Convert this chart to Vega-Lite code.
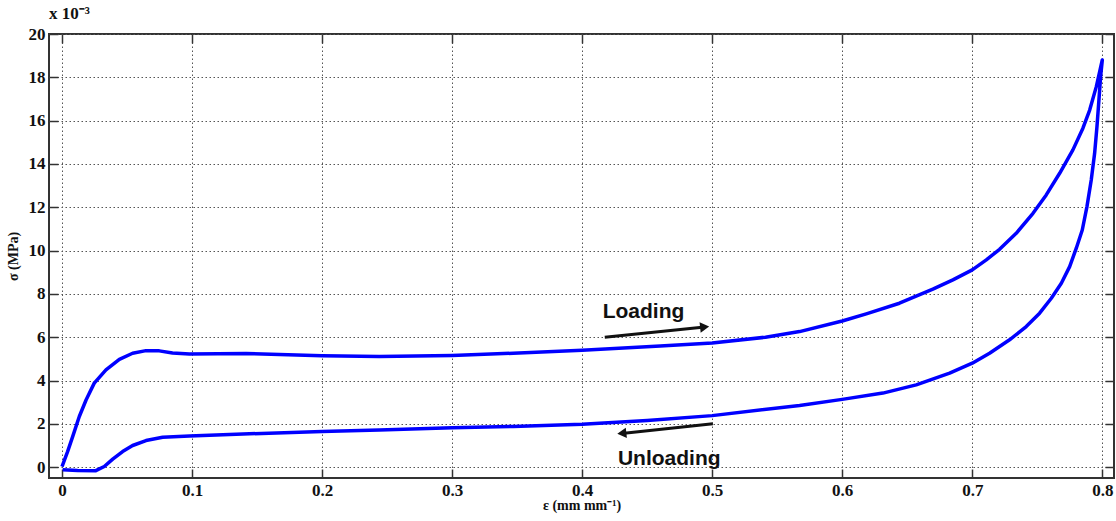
{
  "$schema": "https://vega.github.io/schema/vega-lite/v6.json",
  "autosize": {"type": "none"},
  "padding": {"left": 49, "top": 34, "right": 2, "bottom": 43},
  "width": 1065,
  "height": 444,
  "background": "white",
  "title": {"text": "x 10⁻³", "anchor": "start", "frame": "group", "font": "Liberation Serif", "fontWeight": "bold", "fontSize": 17, "color": "#111", "offset": 2},
  "config": {
    "view": {"stroke": "#333", "strokeWidth": 2},
    "axis": {
      "labelFont": "Liberation Serif", "labelFontWeight": "bold", "labelFontSize": 17, "labelColor": "#111",
      "titleFont": "Liberation Serif", "titleFontWeight": "bold", "titleFontSize": 14, "titleColor": "#111",
      "domain": false, "tickColor": "#333", "tickWidth": 1.5, "tickSize": -9,
      "gridColor": "#555", "gridDash": [1.5, 2.5], "gridWidth": 1, "gridOpacity": 1
    }
  },
  "datasets": {
    "curve": [
      {"i": 1, "strain": 0, "stress": 0.03},
      {"i": 2, "strain": 0.0043, "stress": 0.72},
      {"i": 3, "strain": 0.0082, "stress": 1.41},
      {"i": 4, "strain": 0.0133, "stress": 2.34},
      {"i": 5, "strain": 0.0185, "stress": 3.1},
      {"i": 6, "strain": 0.0248, "stress": 3.88},
      {"i": 7, "strain": 0.0338, "stress": 4.49},
      {"i": 8, "strain": 0.0441, "stress": 4.98},
      {"i": 9, "strain": 0.0543, "stress": 5.26},
      {"i": 10, "strain": 0.0646, "stress": 5.38},
      {"i": 11, "strain": 0.0748, "stress": 5.37},
      {"i": 12, "strain": 0.085, "stress": 5.27},
      {"i": 13, "strain": 0.098, "stress": 5.22},
      {"i": 14, "strain": 0.1415, "stress": 5.25},
      {"i": 15, "strain": 0.2, "stress": 5.14},
      {"i": 16, "strain": 0.244, "stress": 5.11},
      {"i": 17, "strain": 0.3, "stress": 5.16},
      {"i": 18, "strain": 0.347, "stress": 5.26},
      {"i": 19, "strain": 0.4, "stress": 5.4},
      {"i": 20, "strain": 0.46, "stress": 5.6},
      {"i": 21, "strain": 0.5, "stress": 5.73},
      {"i": 22, "strain": 0.541, "stress": 6.0},
      {"i": 23, "strain": 0.5672, "stress": 6.26},
      {"i": 24, "strain": 0.6, "stress": 6.75},
      {"i": 25, "strain": 0.6185, "stress": 7.08},
      {"i": 26, "strain": 0.644, "stress": 7.57},
      {"i": 27, "strain": 0.6697, "stress": 8.22},
      {"i": 28, "strain": 0.6851, "stress": 8.65},
      {"i": 29, "strain": 0.7, "stress": 9.11},
      {"i": 30, "strain": 0.7108, "stress": 9.57},
      {"i": 31, "strain": 0.721, "stress": 10.06},
      {"i": 32, "strain": 0.7338, "stress": 10.8},
      {"i": 33, "strain": 0.7467, "stress": 11.72},
      {"i": 34, "strain": 0.7569, "stress": 12.57},
      {"i": 35, "strain": 0.7672, "stress": 13.57},
      {"i": 36, "strain": 0.7774, "stress": 14.65},
      {"i": 37, "strain": 0.7851, "stress": 15.65},
      {"i": 38, "strain": 0.7903, "stress": 16.49},
      {"i": 39, "strain": 0.7954, "stress": 17.57},
      {"i": 40, "strain": 0.8, "stress": 18.8},
      {"i": 41, "strain": 0.7987, "stress": 18.03},
      {"i": 42, "strain": 0.7974, "stress": 16.95},
      {"i": 43, "strain": 0.7959, "stress": 15.72},
      {"i": 44, "strain": 0.7941, "stress": 14.49},
      {"i": 45, "strain": 0.7915, "stress": 13.26},
      {"i": 46, "strain": 0.7882, "stress": 12.03},
      {"i": 47, "strain": 0.7846, "stress": 10.95},
      {"i": 48, "strain": 0.78, "stress": 10.11},
      {"i": 49, "strain": 0.7749, "stress": 9.26},
      {"i": 50, "strain": 0.7685, "stress": 8.49},
      {"i": 51, "strain": 0.7608, "stress": 7.8},
      {"i": 52, "strain": 0.7518, "stress": 7.11},
      {"i": 53, "strain": 0.7415, "stress": 6.49},
      {"i": 54, "strain": 0.7287, "stress": 5.88},
      {"i": 55, "strain": 0.7133, "stress": 5.26},
      {"i": 56, "strain": 0.7, "stress": 4.8},
      {"i": 57, "strain": 0.6826, "stress": 4.34},
      {"i": 58, "strain": 0.6569, "stress": 3.8},
      {"i": 59, "strain": 0.6313, "stress": 3.42},
      {"i": 60, "strain": 0.6, "stress": 3.13},
      {"i": 61, "strain": 0.5672, "stress": 2.85},
      {"i": 62, "strain": 0.5, "stress": 2.38},
      {"i": 63, "strain": 0.45, "stress": 2.15},
      {"i": 64, "strain": 0.4, "stress": 1.98},
      {"i": 65, "strain": 0.347, "stress": 1.88},
      {"i": 66, "strain": 0.3, "stress": 1.82},
      {"i": 67, "strain": 0.244, "stress": 1.72},
      {"i": 68, "strain": 0.2, "stress": 1.65},
      {"i": 69, "strain": 0.134, "stress": 1.52},
      {"i": 70, "strain": 0.098, "stress": 1.44},
      {"i": 71, "strain": 0.0774, "stress": 1.38},
      {"i": 72, "strain": 0.0646, "stress": 1.23},
      {"i": 73, "strain": 0.0543, "stress": 1.0},
      {"i": 74, "strain": 0.0466, "stress": 0.72},
      {"i": 75, "strain": 0.039, "stress": 0.37},
      {"i": 76, "strain": 0.0325, "stress": 0.03},
      {"i": 77, "strain": 0.026, "stress": -0.16},
      {"i": 78, "strain": 0.012, "stress": -0.15},
      {"i": 79, "strain": 0.0005, "stress": -0.12}
    ],
    "arrows": [
      {"name": "Loading", "x1": 0.4174, "y1": 6.0, "x2": 0.4942, "y2": 6.47, "shape": "triangle-right"},
      {"name": "Unloading", "x1": 0.5005, "y1": 2.0, "x2": 0.4305, "y2": 1.56, "shape": "triangle-left"}
    ],
    "labels": [
      {"text": "Loading", "x": 0.4472, "y": 6.88},
      {"text": "Unloading", "x": 0.467, "y": 0.11}
    ]
  },
  "layer": [
    {
      "data": {"name": "curve"},
      "mark": {"type": "line", "color": "#0000ff", "strokeWidth": 3.5, "strokeJoin": "round"},
      "encoding": {
        "x": {"field": "strain", "type": "quantitative", "scale": {"domain": [-0.01, 0.809], "nice": false, "zero": false},
              "axis": {"title": "ε (mm mm⁻¹)", "values": [0, 0.1, 0.2, 0.3, 0.4, 0.5, 0.6, 0.7, 0.8], "format": "~g", "labelPadding": 13, "titlePadding": 0, "grid": true}},
        "y": {"field": "stress", "type": "quantitative", "scale": {"domain": [-0.5, 20], "nice": false, "zero": false},
              "axis": {"title": "σ (MPa)", "values": [0, 2, 4, 6, 8, 10, 12, 14, 16, 18, 20], "labelPadding": 13, "titlePadding": 8, "grid": true}},
        "order": {"field": "i", "type": "quantitative"}
      }
    },
    {
      "data": {"name": "arrows"},
      "mark": {"type": "rule", "color": "#111", "strokeWidth": 3},
      "encoding": {
        "x": {"field": "x1", "type": "quantitative", "scale": {"domain": [-0.01, 0.809], "nice": false, "zero": false}, "axis": null},
        "y": {"field": "y1", "type": "quantitative", "scale": {"domain": [-0.5, 20], "nice": false, "zero": false}, "axis": null},
        "x2": {"field": "x2"},
        "y2": {"field": "y2"}
      }
    },
    {
      "data": {"name": "arrows"},
      "mark": {"type": "point", "filled": true, "color": "#111", "opacity": 1, "size": 110, "angle": -6},
      "encoding": {
        "x": {"field": "x2", "type": "quantitative", "scale": {"domain": [-0.01, 0.809], "nice": false, "zero": false},
              "axis": {"orient": "top", "title": null, "labels": false, "grid": false, "values": [0, 0.1, 0.2, 0.3, 0.4, 0.5, 0.6, 0.7, 0.8]}},
        "y": {"field": "y2", "type": "quantitative", "scale": {"domain": [-0.5, 20], "nice": false, "zero": false},
              "axis": {"orient": "right", "title": null, "labels": false, "grid": false, "values": [0, 2, 4, 6, 8, 10, 12, 14, 16, 18, 20]}},
        "shape": {"field": "shape", "type": "nominal", "scale": null}
      }
    },
    {
      "data": {"name": "labels"},
      "mark": {"type": "text", "font": "Liberation Sans", "fontWeight": "bold", "fontSize": 21, "color": "#111", "align": "center", "baseline": "alphabetic"},
      "encoding": {
        "x": {"field": "x", "type": "quantitative", "scale": {"domain": [-0.01, 0.809], "nice": false, "zero": false}, "axis": null},
        "y": {"field": "y", "type": "quantitative", "scale": {"domain": [-0.5, 20], "nice": false, "zero": false}, "axis": null},
        "text": {"field": "text"}
      }
    }
  ],
  "resolve": {"axis": {"x": "independent", "y": "independent"}}
}
